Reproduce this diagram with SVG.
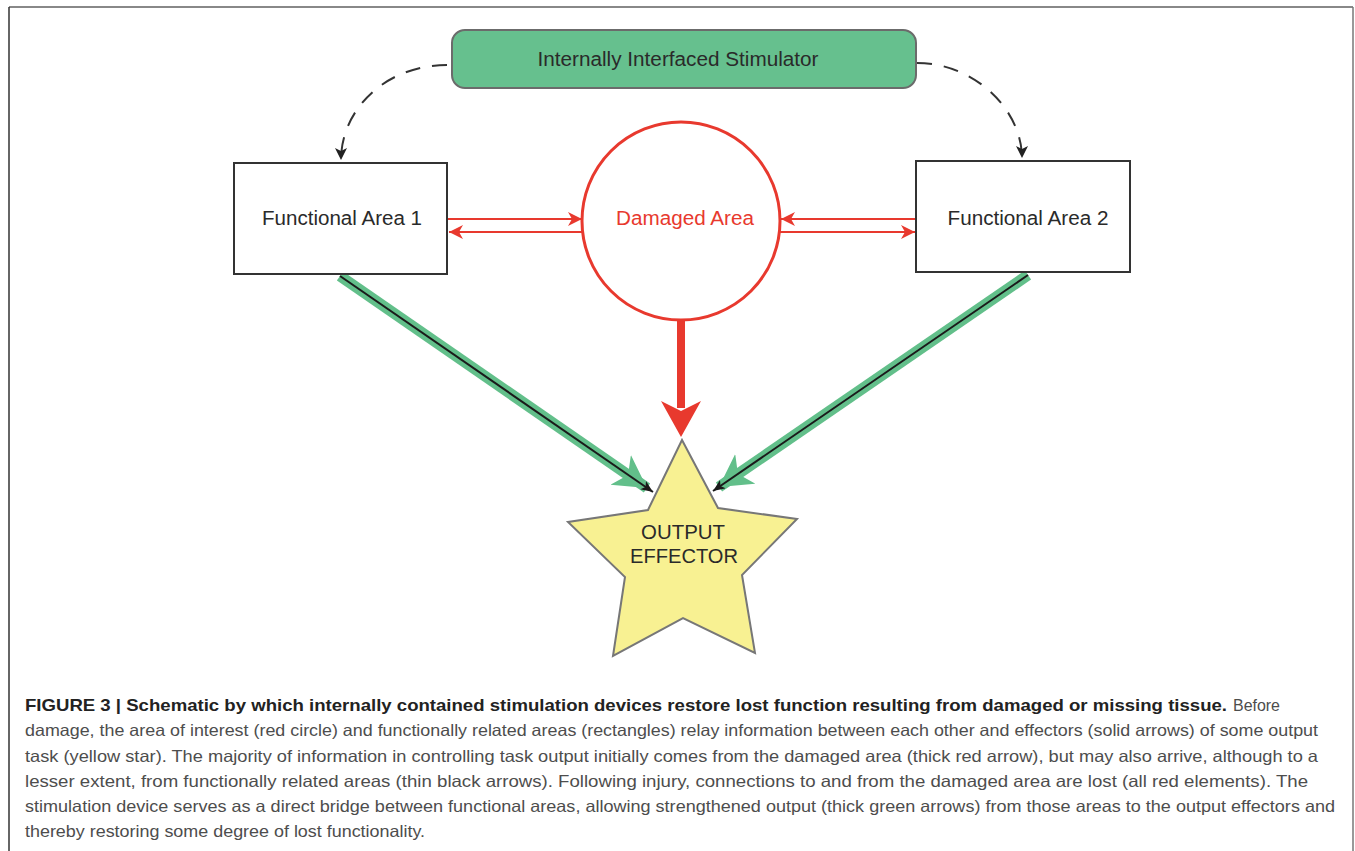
<svg xmlns="http://www.w3.org/2000/svg" width="1355" height="851" viewBox="0 0 1355 851">
<style>
.lbl{font-family:"Liberation Sans",Arial,sans-serif;fill:#2a2a2a;font-size:20px}
.cap{font-family:"Liberation Sans",Arial,sans-serif;fill:#4d4d4d;font-size:16.5px}
.capb{font-family:"Liberation Sans",Arial,sans-serif;fill:#222;font-size:16.5px;font-weight:bold}
.box{fill:#fff;stroke:#333;stroke-width:2}
.dash{fill:none;stroke:#333;stroke-width:2;stroke-dasharray:15 12}
.thin{stroke:#e8392e;stroke-width:2;fill:none}
.green{stroke:#62bf8a;stroke-width:11;fill:none}
.blk{stroke:#1a1a1a;stroke-width:2;fill:none}
</style>
<defs>
<marker id="redHead" markerUnits="userSpaceOnUse" markerWidth="16" markerHeight="14" refX="14" refY="7" orient="auto" viewBox="0 0 16 14">
<path d="M0,0 L14,7 L0,14 L4,7 z" fill="#e8392e"/>
</marker>
<marker id="dashHead" markerUnits="userSpaceOnUse" markerWidth="14" markerHeight="14" refX="12" refY="6" orient="auto" viewBox="0 0 14 14">
<path d="M0,0 L12,6 L0,12 L3,6 z" fill="#222"/>
</marker>
<marker id="greenHead" markerUnits="userSpaceOnUse" markerWidth="36" markerHeight="38" refX="32" refY="18" orient="auto" viewBox="0 0 36 38">
<path d="M0,0 L32,18 L0,36 L9,18 z" fill="#62bf8a"/>
</marker>
<marker id="blkHead" markerUnits="userSpaceOnUse" markerWidth="14" markerHeight="12" refX="12" refY="5" orient="auto" viewBox="0 0 14 12">
<path d="M0,0 L12,5 L0,10 L3,5 z" fill="#1a1a1a"/>
</marker>
</defs>
<rect width="1355" height="851" fill="#fff"/>
<g id="frame" fill="none">
<line x1="9" y1="7" x2="1353" y2="7" stroke="#888" stroke-width="2"/>
<line x1="9" y1="7" x2="9" y2="851" stroke="#333" stroke-width="1.5"/>
<line x1="1353" y1="7" x2="1353" y2="851" stroke="#777" stroke-width="1.5"/>
</g>
<g id="connectors">
<path class="dash" d="M447,65 C385,65 341,110 341,160" marker-end="url(#dashHead)"/>
<path class="dash" d="M917,63 C975,63 1022,110 1022,158" marker-end="url(#dashHead)"/>
<line class="thin" x1="448" y1="219" x2="582" y2="219" marker-end="url(#redHead)"/>
<line class="thin" x1="582" y1="232" x2="449" y2="232" marker-end="url(#redHead)"/>
<line class="thin" x1="916" y1="219" x2="781" y2="219" marker-end="url(#redHead)"/>
<line class="thin" x1="780" y1="232" x2="915" y2="232" marker-end="url(#redHead)"/>
<line x1="681" y1="320" x2="681" y2="408" stroke="#e8392e" stroke-width="8"/>
<path d="M681,437 L661,401 L681,411 L701,401 z" fill="#e8392e"/>
<line class="green" x1="340" y1="276" x2="647" y2="488" marker-end="url(#greenHead)"/>
<line class="blk" x1="340" y1="276" x2="653" y2="492" marker-end="url(#blkHead)"/>
<line class="green" x1="1028" y1="275" x2="719" y2="487" marker-end="url(#greenHead)"/>
<line class="blk" x1="1028" y1="275" x2="713" y2="491" marker-end="url(#blkHead)"/>
</g>
<g id="stimulator">
<rect x="452" y="30" width="464" height="58" rx="13" fill="#66c08e" stroke="#6b6b6b" stroke-width="2"/>
<text class="lbl" x="678" y="66" text-anchor="middle" textLength="281" lengthAdjust="spacingAndGlyphs">Internally Interfaced Stimulator</text>
</g>
<g id="functional-area-1">
<rect class="box" x="234" y="163" width="213" height="111"/>
<text class="lbl" x="342" y="225" text-anchor="middle" textLength="160" lengthAdjust="spacingAndGlyphs">Functional Area 1</text>
</g>
<g id="functional-area-2">
<rect class="box" x="916" y="161" width="214" height="111"/>
<text class="lbl" x="1028" y="225" text-anchor="middle" textLength="161" lengthAdjust="spacingAndGlyphs">Functional Area 2</text>
</g>
<g id="damaged-area">
<circle cx="681" cy="221" r="99" fill="#fff" stroke="#e8392e" stroke-width="3"/>
<text class="lbl" x="685" y="225" text-anchor="middle" style="fill:#e8392e" textLength="138" lengthAdjust="spacingAndGlyphs">Damaged Area</text>
</g>
<g id="output-effector">
<polygon points="682,440 718,508 797,519 742,575 755,653 683,618 613,656 625,577 568,522 648,510" fill="#f8f192" stroke="#777" stroke-width="2"/>
<text class="lbl" x="683" y="539" text-anchor="middle" style="font-size:21px" textLength="84" lengthAdjust="spacingAndGlyphs">OUTPUT</text>
<text class="lbl" x="684" y="563" text-anchor="middle" style="font-size:21px" textLength="108" lengthAdjust="spacingAndGlyphs">EFFECTOR</text>
</g>
<g id="caption">
<text class="capb" x="25" y="711" textLength="1202" lengthAdjust="spacingAndGlyphs">FIGURE 3 | Schematic by which internally contained stimulation devices restore lost function resulting from damaged or missing tissue.</text>
<text class="cap" x="1233" y="711" textLength="47" lengthAdjust="spacingAndGlyphs">Before</text>
<text class="cap" x="25" y="736" textLength="1293" lengthAdjust="spacingAndGlyphs">damage, the area of interest (red circle) and functionally related areas (rectangles) relay information between each other and effectors (solid arrows) of some output</text>
<text class="cap" x="25" y="762" textLength="1293" lengthAdjust="spacingAndGlyphs">task (yellow star). The majority of information in controlling task output initially comes from the damaged area (thick red arrow), but may also arrive, although to a</text>
<text class="cap" x="25" y="787" textLength="1283" lengthAdjust="spacingAndGlyphs">lesser extent, from functionally related areas (thin black arrows). Following injury, connections to and from the damaged area are lost (all red elements). The</text>
<text class="cap" x="25" y="812" textLength="1310" lengthAdjust="spacingAndGlyphs">stimulation device serves as a direct bridge between functional areas, allowing strengthened output (thick green arrows) from those areas to the output effectors and</text>
<text class="cap" x="25" y="837" textLength="400" lengthAdjust="spacingAndGlyphs">thereby restoring some degree of lost functionality.</text>
</g>
</svg>
